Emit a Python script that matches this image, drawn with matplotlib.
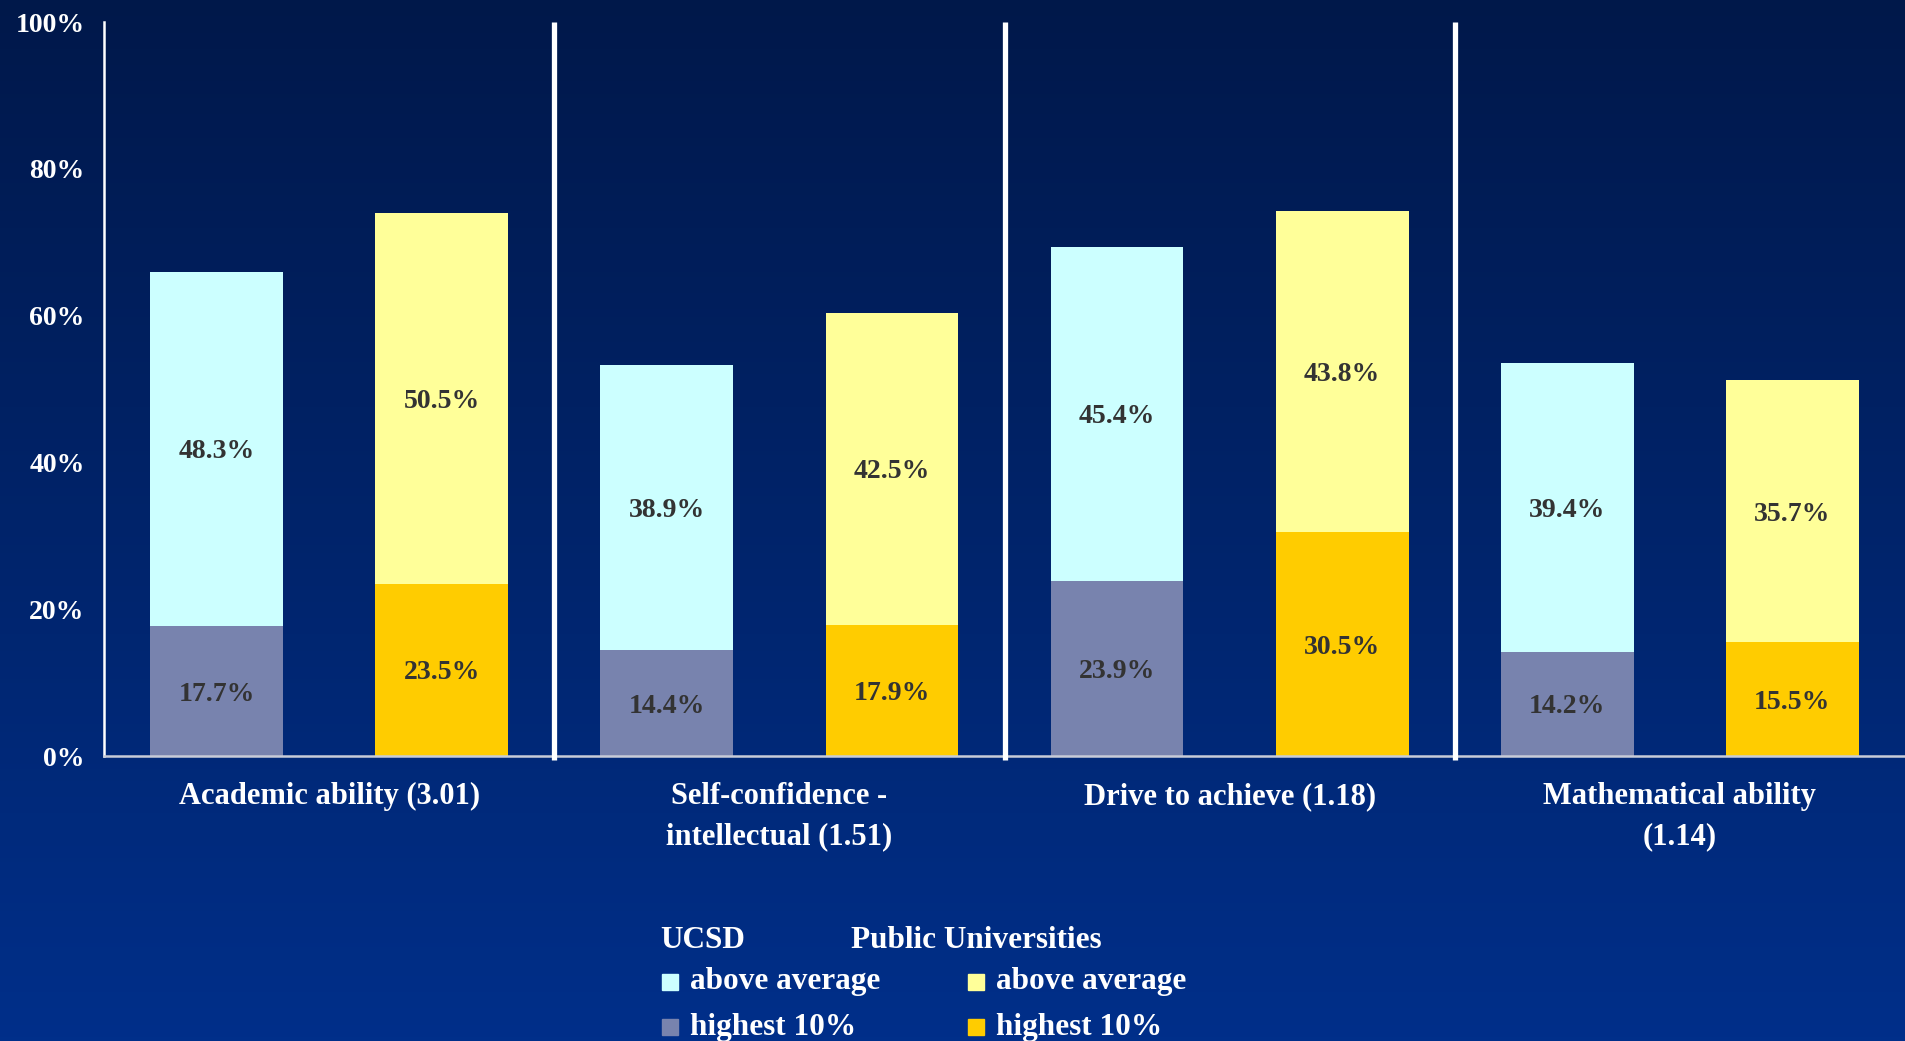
import numpy as np
import matplotlib
matplotlib.use("Agg")
import matplotlib.pyplot as plt
from matplotlib.colors import LinearSegmentedColormap
from matplotlib.patches import Rectangle

categories = ["Academic ability (3.01)", "Self-confidence -\nintellectual (1.51)",
              "Drive to achieve (1.18)", "Mathematical ability\n(1.14)"]
ucsd_highest = [17.7, 14.4, 23.9, 14.2]
ucsd_above = [48.3, 38.9, 45.4, 39.4]
public_highest = [23.5, 17.9, 30.5, 15.5]
public_above = [50.5, 42.5, 43.8, 35.7]

c_ucsd_above = "#CCFFFF"
c_ucsd_high = "#7883AE"
c_pub_above = "#FFFF99"
c_pub_high = "#FFCC00"
label_color = "#333333"
serif = ["Liberation Serif", "DejaVu Serif"]

fig = plt.figure(figsize=(19.05, 10.41), dpi=100)

# background gradient
bg = fig.add_axes([0, 0, 1, 1], zorder=-10)
grad = np.linspace(0, 1, 256).reshape(-1, 1)
cmap = LinearSegmentedColormap.from_list("bg", ["#00184A", "#002F8A"])
bg.imshow(grad, aspect="auto", cmap=cmap, extent=[0, 1, 0, 1], origin="upper")
bg.axis("off")

ax = fig.add_axes([104 / 1905, 1 - 756 / 1041, 1 - 104 / 1905, (756 - 22) / 1041])
ax.patch.set_alpha(0)

x = np.arange(len(categories))
w = 0.295
xu = x + 0.25
xp = x + 0.75

ax.bar(xu, ucsd_highest, w, color=c_ucsd_high, zorder=2)
ax.bar(xu, ucsd_above, w, bottom=ucsd_highest, color=c_ucsd_above, zorder=2)
ax.bar(xp, public_highest, w, color=c_pub_high, zorder=2)
ax.bar(xp, public_above, w, bottom=public_highest, color=c_pub_above, zorder=2)

def put_labels(xs, bottoms, vals):
    for xi, b, v in zip(xs, bottoms, vals):
        ax.text(xi, b + v / 2, "%.1f%%" % v, ha="center", va="center_baseline",
                color=label_color, fontsize=20, fontweight="bold", family=serif, zorder=3)

put_labels(xu, [0] * 4, ucsd_highest)
put_labels(xu, ucsd_highest, ucsd_above)
put_labels(xp, [0] * 4, public_highest)
put_labels(xp, public_highest, public_above)

# separators between groups
for s in x[1:]:
    ax.plot([s, s], [-0.6, 100], color="white", lw=3.8, solid_capstyle="butt",
            clip_on=False, zorder=4)

ax.set_xlim(0, 4)
ax.set_ylim(0, 100)
ax.set_yticks(np.arange(0, 101, 20))
ax.set_yticklabels(["%d%%" % t for t in np.arange(0, 101, 20)])
ax.set_xticks(x + 0.5)
ax.set_xticklabels(categories)
ax.tick_params(axis="y", length=0, pad=14, colors="white", labelsize=20)
ax.tick_params(axis="x", length=0, pad=19, colors="white", labelsize=22)
for lab in ax.get_yticklabels():
    lab.set_family(serif)
    lab.set_fontweight("bold")
for lab in ax.get_xticklabels():
    lab.set_family(serif)
    lab.set_fontweight("bold")
    lab.set_linespacing(1.5)
    lab.set_va("top")

ax.spines["top"].set_visible(False)
ax.spines["right"].set_visible(False)
ax.spines["left"].set_color("white")
ax.spines["left"].set_linewidth(1.8)
ax.spines["bottom"].set_color("#C8CCD8")
ax.spines["bottom"].set_linewidth(1.8)

# legend, drawn in figure pixels
def fx(px):
    return px / 1905

def fy(py):
    return 1 - py / 1041

tkw = dict(color="white", fontsize=22.5, fontweight="bold", family=serif, va="center")
fig.text(fx(660), fy(941), "UCSD", **tkw)
fig.text(fx(851), fy(941), "Public Universities", **tkw)
entries = [(662, 982, c_ucsd_above, "above average"), (662, 1027, c_ucsd_high, "highest 10%"),
           (968, 982, c_pub_above, "above average"), (968, 1027, c_pub_high, "highest 10%")]
for px, py, col, txt in entries:
    fig.add_artist(Rectangle((fx(px), fy(py + 8)), fx(16), 16 / 1041, color=col,
                             transform=fig.transFigure))
    fig.text(fx(px + 28), fy(py), txt, **tkw)

fig.savefig("out.png", dpi=100)
